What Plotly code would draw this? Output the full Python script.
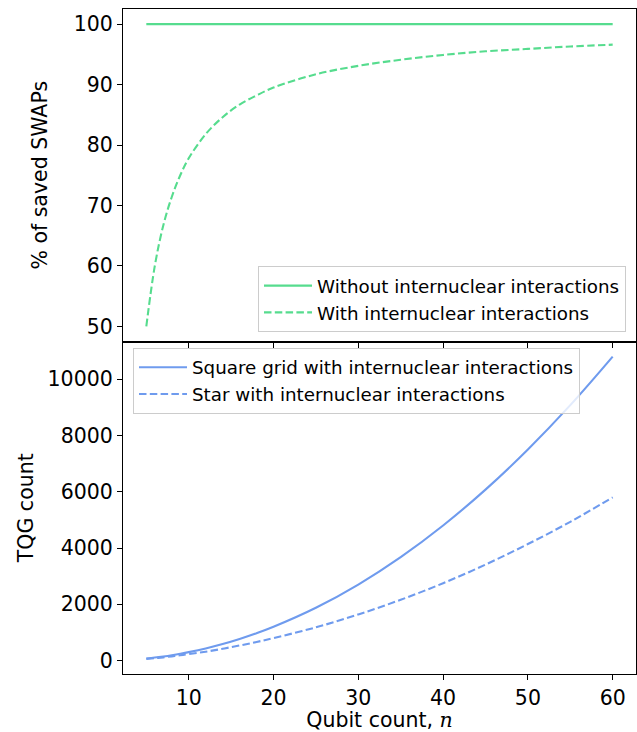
import plotly.graph_objects as go
from plotly.subplots import make_subplots

# Qubit counts at which the curves were sampled
n_top = [5, 6, 7, 8, 9, 10, 12, 14, 16, 18, 20, 25, 30, 35, 40, 45, 50, 55, 60]
n_bot = [5, 6, 7, 8, 9, 10, 12, 14, 16, 18, 20, 25, 30, 35, 40, 45, 50, 55, 60]

# % of saved SWAPs
saved_without = [100] * len(n_top)
saved_with = [50.0, 60.0, 66.7, 71.4, 75.0, 77.8, 81.8, 84.6, 86.7, 88.2, 89.5,
              91.7, 93.1, 94.1, 94.9, 95.5, 95.9, 96.3, 96.6]

# Two-qubit gate counts
tqg_square = [75, 108, 147, 192, 243, 300, 432, 588, 768, 972, 1200, 1875, 2700,
              3675, 4800, 6075, 7500, 9075, 10800]
tqg_star = [60, 85, 115, 150, 190, 230, 315, 420, 535, 660, 800, 1180, 1640,
            2160, 2750, 3410, 4140, 4930, 5800]

x_ticks = [10, 20, 30, 40, 50, 60]
top_ticks = [50, 60, 70, 80, 90, 100]
bot_ticks = [0, 2000, 4000, 6000, 8000, 10000]

GREEN = "#56dc8e"
BLUE = "#6f9bee"
FONT = "DejaVu Sans"
TICK_SIZE = 20.5
LW = 2.1
DASH = "7.5px,3.3px"


def padded(lo, hi, frac=0.05):
    span = hi - lo
    return [lo - frac * span, hi + frac * span]


fig = make_subplots(rows=2, cols=1, shared_xaxes=True, vertical_spacing=0)

fig.add_trace(go.Scatter(x=n_top, y=saved_without, mode="lines",
                         name="Without internuclear interactions",
                         line=dict(color=GREEN, width=LW), legend="legend"),
              row=1, col=1)
fig.add_trace(go.Scatter(x=n_top, y=saved_with, mode="lines",
                         name="With internuclear interactions",
                         line=dict(color=GREEN, width=LW, dash=DASH, shape="spline"),
                         legend="legend"),
              row=1, col=1)
fig.add_trace(go.Scatter(x=n_bot, y=tqg_square, mode="lines",
                         name="Square grid with internuclear interactions",
                         line=dict(color=BLUE, width=LW, shape="spline"), legend="legend2"),
              row=2, col=1)
fig.add_trace(go.Scatter(x=n_bot, y=tqg_star, mode="lines",
                         name="Star with internuclear interactions",
                         line=dict(color=BLUE, width=LW, dash=DASH, shape="spline"),
                         legend="legend2"),
              row=2, col=1)

all_n = n_top + n_bot
x_range = padded(min(all_n), max(all_n))
top_range = padded(min(saved_with + saved_without), max(saved_with + saved_without))
bot_range = padded(min(tqg_square + tqg_star), max(tqg_square + tqg_star))

axis_common = dict(showline=True, mirror=True, linecolor="black", linewidth=1.2,
                   ticks="outside", ticklen=5, tickwidth=1.2, tickcolor="black",
                   showgrid=False, zeroline=False,
                   tickfont=dict(family=FONT, size=TICK_SIZE, color="black"))

fig.update_xaxes(**axis_common, range=x_range, tickvals=x_ticks,
                 ticktext=[str(v) for v in x_ticks])
fig.update_xaxes(showticklabels=False, row=1, col=1)
fig.update_xaxes(title=dict(text="Qubit count, <span style=\"font-family:'DejaVu Serif'\"><i>n</i></span>",
                            font=dict(family=FONT, size=TICK_SIZE, color="black"), standoff=4),
                 row=2, col=1)
fig.update_yaxes(**axis_common)
fig.update_yaxes(range=top_range, tickvals=top_ticks,
                 ticktext=[str(v) for v in top_ticks],
                 title=dict(text="% of saved SWAPs",
                            font=dict(family=FONT, size=TICK_SIZE, color="black"), standoff=20),
                 row=1, col=1)
fig.update_yaxes(range=bot_range, tickvals=bot_ticks,
                 ticktext=[str(v) for v in bot_ticks],
                 title=dict(text="TQG count",
                            font=dict(family=FONT, size=TICK_SIZE, color="black"), standoff=8),
                 row=2, col=1)

legend_style = dict(bgcolor="rgba(255,255,255,0.8)", bordercolor="#cccccc",
                    borderwidth=1, font=dict(family=FONT, size=18.3, color="black"),
                    tracegroupgap=0, itemwidth=48)

fig.update_layout(
    width=637, height=732,
    margin=dict(l=123, r=1, t=9, b=58),
    paper_bgcolor="white", plot_bgcolor="white",
    showlegend=True,
    legend=dict(**legend_style, x=0.9805, xanchor="right", y=0.514, yanchor="bottom"),
    legend2=dict(**legend_style, x=0.0195, xanchor="left", y=0.4905, yanchor="top"),
)

fig.write_html("out.html")
